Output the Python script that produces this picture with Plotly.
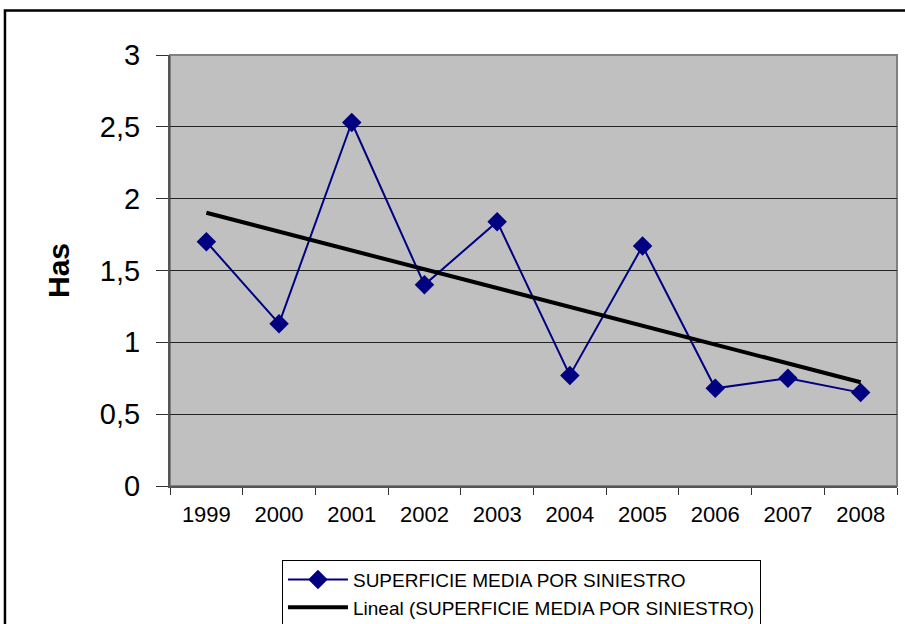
import numpy as np
import plotly.graph_objects as go

years = ["1999", "2000", "2001", "2002", "2003", "2004", "2005", "2006", "2007", "2008"]
superficie = [1.70, 1.13, 2.53, 1.40, 1.84, 0.77, 1.67, 0.68, 0.75, 0.65]
y_ticks = [0, 0.5, 1, 1.5, 2, 2.5, 3]
y_labels = ["0", "0,5", "1", "1,5", "2", "2,5", "3"]

idx = np.arange(len(years))
slope, intercept = np.polyfit(idx, superficie, 1)
trend = list(intercept + slope * idx)

fig = go.Figure()
fig.add_trace(go.Scatter(
    x=years, y=superficie, mode="lines+markers",
    name="SUPERFICIE MEDIA POR SINIESTRO",
    line=dict(color="#000080", width=2),
    marker=dict(symbol="diamond", size=15, color="#000080"),
))
fig.add_trace(go.Scatter(
    x=years, y=trend, mode="lines",
    name="Lineal (SUPERFICIE MEDIA POR SINIESTRO)",
    line=dict(color="black", width=4),
))

fig.update_layout(
    width=905, height=624,
    margin=dict(l=170, r=8, t=55, b=138, autoexpand=False),
    paper_bgcolor="white",
    plot_bgcolor="#C0C0C0",
    font=dict(family="Liberation Sans, Arial", color="black"),
    separators=", ",
    showlegend=True,
    legend=dict(
        x=0.154, y=-0.171, xanchor="left", yanchor="top",
        bordercolor="black", borderwidth=1, bgcolor="white",
        font=dict(size=19, family="Liberation Sans, Arial"),
        itemwidth=60,
    ),
    xaxis=dict(
        type="category", tickson="boundaries", ticks="outside", ticklen=7,
        tickcolor="#333", tickwidth=1, showgrid=False,
        showline=True, linecolor="#555", linewidth=2,
        tickfont=dict(size=22), range=[-0.5, 9.5],
        ticklabelstandoff=8, automargin=False,
    ),
    yaxis=dict(
        range=[0, 3], tickvals=y_ticks, ticktext=y_labels,
        ticks="outside", ticklen=12, tickcolor="#333",
        showgrid=True, gridcolor="#222", gridwidth=1,
        showline=True, linecolor="#555", linewidth=2,
        tickfont=dict(size=29), zeroline=False,
        ticklabelstandoff=10, automargin=False,
        title=dict(text="<b>Has</b>", font=dict(size=30), standoff=21),
    ),
    shapes=[
        dict(type="rect", xref="paper", yref="paper", x0=0, y0=0, x1=1, y1=1,
             line=dict(color="#808080", width=2), layer="below"),
        dict(type="rect", xref="paper", yref="paper", x0=-0.227, y0=-0.5,
             x1=1.2, y1=1.103, line=dict(color="black", width=2.5)),
    ],
)

fig.write_html("out.html", config={"displayModeBar": False},
               post_script="document.body.style.margin='0';")
